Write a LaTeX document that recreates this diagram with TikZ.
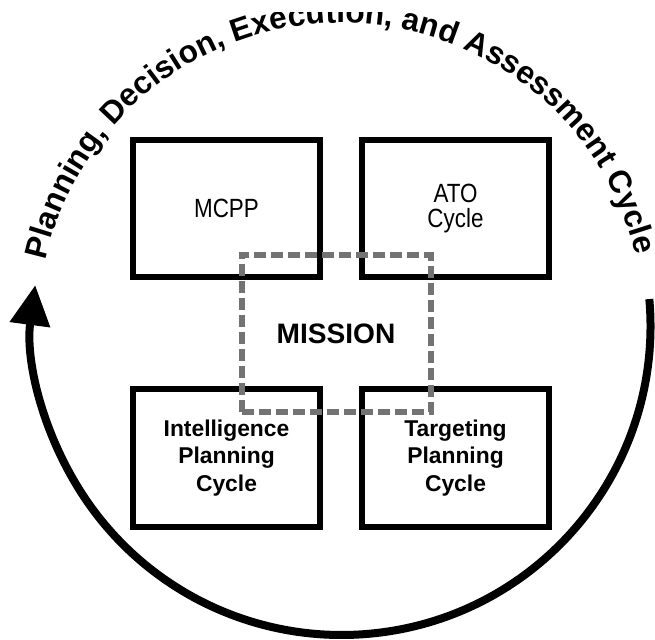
\documentclass[tikz,border=0pt]{standalone}
\usepackage{fontspec}
\setmainfont{Liberation Sans}
\newfontfamily\narrowfont[FakeStretch=0.85]{Liberation Sans}
\usepackage{tikz}
\usetikzlibrary{arrows.meta}
\usetikzlibrary{decorations.text}
\pgfdeclarelayer{nodelayer}
\pgfdeclarelayer{edgelayer}
\pgfsetlayers{edgelayer,nodelayer,main}
\tikzstyle{none}=[inner sep=0pt]
\tikzset{box/.style={draw=black, line width=0.12cm, minimum width=3.74cm, minimum height=2.75cm, 
inner sep=0pt, align=center, font=\bfseries\fontsize{13}{15.5}\selectfont}}
\tikzset{narrowbox/.style={box, font=\narrowfont\fontsize{15}{14}\selectfont}}
\tikzset{dashbox/.style={draw=black!55, line width=0.12cm, dash pattern=on 0.24cm off 0.1cm, 
minimum width=3.78cm, minimum height=3.14cm, inner sep=0pt, font=\bfseries\fontsize{16}{19}\selectfont}}
\tikzset{cycle/.style={line width=0.16cm, -{Triangle[length=0.8cm, width=0.78cm]}}}

\begin{document}
\begin{tikzpicture}
        \useasboundingbox (0, 0) rectangle (13.1, 12.78);
        \begin{pgfonlayer}{nodelayer}
            \coordinate (0) at (6.83, 6.26);
            \node [style=narrowbox] (1) at (4.53, 8.61) {MCPP};
            \node [style=narrowbox] (2) at (9.11, 8.61) {ATO\\Cycle};
            \node [style=box] (3) at (4.53, 3.62) {Intelligence\\Planning\\Cycle};
            \node [style=box] (4) at (9.11, 3.62) {Targeting\\Planning\\Cycle};
        \end{pgfonlayer}
        \node [style=dashbox] (5) at (6.72, 6.11) {MISSION};
        \begin{pgfonlayer}{edgelayer}
            \draw [style=cycle] (0) ++(5:6.18) arc [start angle=5, end angle=-187.6, radius=6.18];
            \begin{scope}
                \clip (0, 0) rectangle (13.1, 12.52);
                \path [decorate, decoration={text along path, text align=center,
                    text={|\bfseries\fontsize{18}{18}\selectfont|Planning, Decision, Execution, and Assessment Cycle}}]
                    (0) ++(170:6.06) arc [start angle=170, end angle=11, radius=6.06];
            \end{scope}
        \end{pgfonlayer}
    \end{tikzpicture}
\end{document}
